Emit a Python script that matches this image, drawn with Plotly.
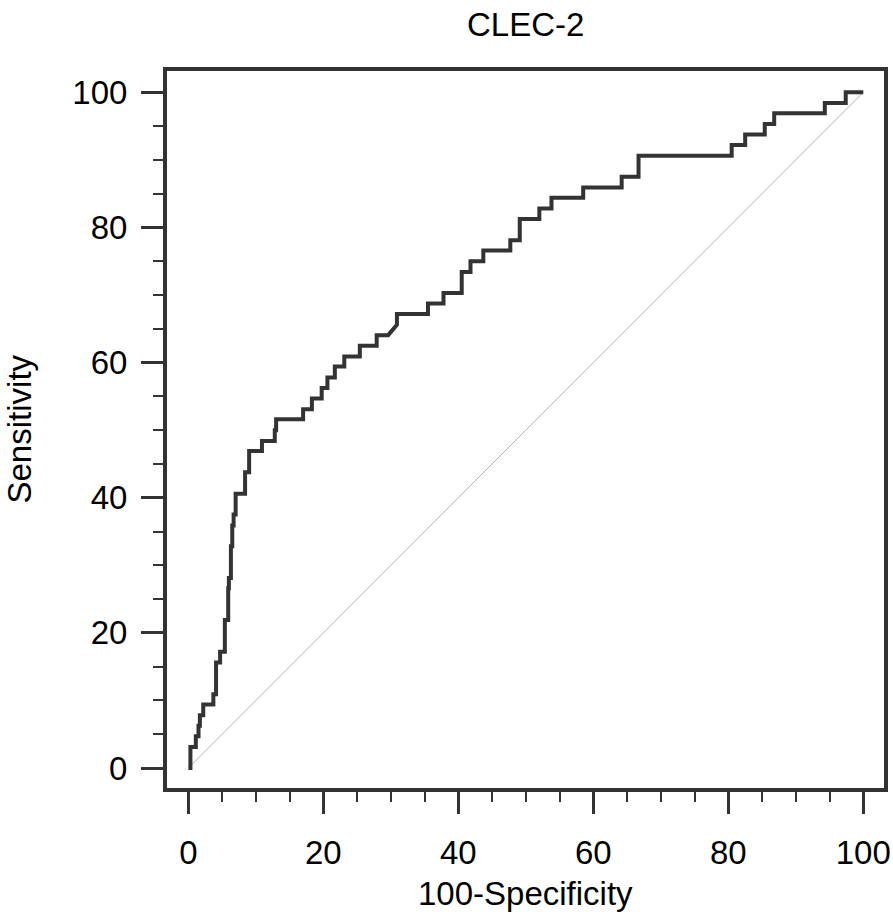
import plotly.graph_objects as go

# ROC curve vertices (100-Specificity, Sensitivity)
fpr = [0.0, 0.3, 0.3, 1.1, 1.1, 1.5, 1.5, 1.7, 1.7, 2.2, 2.2, 3.7, 3.7, 4.1, 4.1,
       4.7, 4.7, 5.4, 5.4, 5.9, 5.9, 6.0, 6.0, 6.3, 6.3, 6.5, 6.5, 6.7, 6.7, 7.0,
       7.0, 8.4, 8.4, 9.0, 9.0, 10.9, 10.9, 12.8, 12.8, 13.0, 13.0, 17.0, 17.0,
       18.3, 18.3, 19.75, 19.75, 20.6, 20.6, 21.7, 21.7, 23.1, 23.1, 25.4, 25.4,
       27.9, 27.9, 29.6, 30.9, 30.9, 35.5, 35.5, 37.8, 37.8, 40.5, 40.5, 41.8,
       41.8, 43.7, 43.7, 47.7, 47.7, 49.1, 49.1, 52.0, 52.0, 53.8, 53.8, 58.5,
       58.5, 64.2, 64.2, 66.7, 66.7, 80.5, 80.5, 82.5, 82.5, 85.4, 85.4, 86.8,
       86.8, 94.3, 94.3, 97.4, 97.4, 100.0]
tpr = [0.0, 0.0, 3.1, 3.1, 4.7, 4.7, 6.25, 6.25, 7.8, 7.8, 9.4, 9.4, 10.9, 10.9, 15.6,
       15.6, 17.2, 17.2, 21.9, 21.9, 26.6, 26.6, 28.1, 28.1, 32.8, 32.8, 35.9, 35.9,
       37.5, 37.5, 40.6, 40.6, 43.75, 43.75, 46.9, 46.9, 48.4, 48.4, 50.0, 50.0,
       51.6, 51.6, 53.1, 53.1, 54.7, 54.7, 56.25, 56.25, 57.8, 57.8, 59.4, 59.4,
       60.9, 60.9, 62.5, 62.5, 64.06, 64.06, 65.6, 67.2, 67.2, 68.75, 68.75, 70.3,
       70.3, 73.4, 73.4, 75.0, 75.0, 76.6, 76.6, 78.1, 78.1, 81.25, 81.25, 82.8,
       82.8, 84.4, 84.4, 85.9, 85.9, 87.5, 87.5, 90.6, 90.6, 92.2, 92.2, 93.75,
       93.75, 95.3, 95.3, 96.9, 96.9, 98.4, 98.4, 100.0, 100.0]

diag_x = [0, 100]
diag_y = [0, 100]

tick_vals = [0, 20, 40, 60, 80, 100]
tick_text = ["0", "20", "40", "60", "80", "100"]

FONT = "Liberation Sans, Arial, sans-serif"
DARK = "#333333"
FS = 33

L, R, T, B = 167, 9, 71, 128

fig = go.Figure()
fig.add_trace(go.Scatter(x=diag_x, y=diag_y, mode="lines",
                         line=dict(color="#b4b4b4", width=1), hoverinfo="skip",
                         showlegend=False))
fig.add_trace(go.Scatter(x=fpr, y=tpr, mode="lines",
                         line=dict(color=DARK, width=4), showlegend=False))

axis_common = dict(
    showgrid=False, zeroline=False, automargin=False,
    showline=True, linewidth=4, linecolor=DARK, mirror=True,
    ticks="outside", ticklen=22, tickwidth=3, tickcolor=DARK,
    tickvals=tick_vals, ticktext=tick_text,
    tickfont=dict(family=FONT, size=FS, color="black"),
    minor=dict(dtick=5, ticks="outside", ticklen=10, tickwidth=2, tickcolor=DARK),
)

fig.update_layout(
    width=893, height=916,
    paper_bgcolor="white", plot_bgcolor="white",
    margin=dict(l=L, r=R, t=T, b=B),
    xaxis=dict(range=[-3.17, 103.07], ticklabelstandoff=10, **axis_common),
    yaxis=dict(range=[-2.96, 103.15], ticklabelstandoff=7, **axis_common),
    annotations=[
        dict(text="CLEC-2", xref="paper", yref="paper", x=0.5, y=1,
             yshift=T - 24, xanchor="center", yanchor="middle", showarrow=False,
             font=dict(family=FONT, size=FS, color="black")),
        dict(text="100-Specificity", xref="paper", yref="paper", x=0.5, y=0,
             yshift=-(893 - (916 - B)), xanchor="center", yanchor="middle",
             showarrow=False, font=dict(family=FONT, size=FS, color="black")),
        dict(text="Sensitivity", xref="paper", yref="paper", x=0, y=0.5,
             xshift=19 - L, xanchor="center", yanchor="middle", textangle=-90,
             showarrow=False, font=dict(family=FONT, size=FS, color="black")),
    ],
)

fig.write_html("out.html", config={"displayModeBar": False},
               post_script="document.body.style.margin='0';document.body.style.overflow='hidden';")
